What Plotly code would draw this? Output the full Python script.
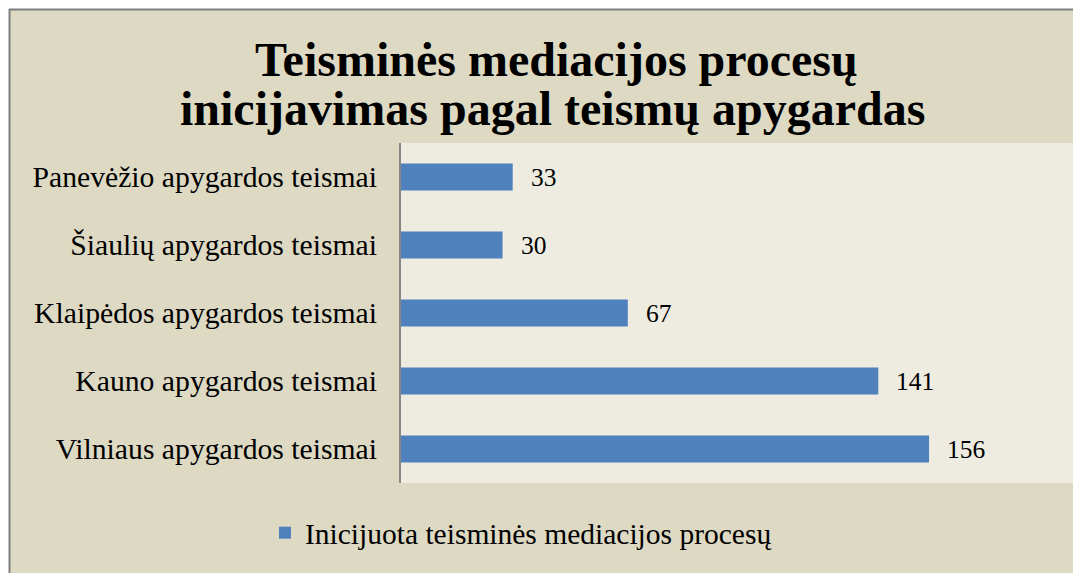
import plotly.graph_objects as go

categories = [
    "Vilniaus apygardos teismai",
    "Kauno apygardos teismai",
    "Klaipėdos apygardos teismai",
    "Šiaulių apygardos teismai",
    "Panevėžio apygardos teismai",
]
values = [156, 141, 67, 30, 33]
series_name = "Inicijuota teisminės mediacijos procesų"
title_lines = ["Teisminės mediacijos procesų", "inicijavimas pagal teismų apygardas"]

# page body has an 8px margin: figure coords = screen coords - 8
OFF = 8
W, H = 1081 - OFF, 573 - OFF
L, R, T, B = 401 - OFF, 1078 - OFF, 143 - OFF, 483 - OFF  # plot area in figure pixels


def px_x(p):
    return (p - OFF - L) / (R - L)


def px_y(p):
    return (B - (p - OFF)) / (B - T)


SERIF = "Liberation Serif, Times New Roman, serif"

fig = go.Figure()
fig.add_trace(go.Bar(
    x=values,
    y=categories,
    orientation="h",
    name=series_name,
    marker=dict(color="#4F81BD", line=dict(width=0)),
    showlegend=True,
    hoverinfo="x+y",
))

annotations = []
for v, c in zip(values, categories):
    annotations.append(dict(
        x=v, y=c, xref="x", yref="y", text=str(v), showarrow=False,
        xanchor="left", yanchor="middle", xshift=16,
        font=dict(family=SERIF, size=25.5, color="#000000"),
    ))

title_centers = [(556, 59), (552, 109)]
for line, (cx, cy) in zip(title_lines, title_centers):
    annotations.append(dict(
        x=px_x(cx), y=px_y(cy), xref="paper", yref="paper", text="<b>" + line + "</b>",
        showarrow=False, xanchor="center", yanchor="middle",
        font=dict(family=SERIF, size=48, color="#000000"),
    ))

fig.update_layout(
    width=W, height=H,
    margin=dict(l=L, r=W - R, t=T, b=H - B, pad=0),
    paper_bgcolor="#DDD9C3",
    plot_bgcolor="#EEECE1",
    bargap=0.6,
    font=dict(family=SERIF, color="#000000"),
    xaxis=dict(range=[0, 200], showticklabels=False, showgrid=False, zeroline=False,
               showline=False, ticks="", fixedrange=True),
    yaxis=dict(showgrid=False, zeroline=False, showline=True, linecolor="#868686",
               linewidth=2, ticks="", ticklabelstandoff=16,
               tickfont=dict(family=SERIF, size=29.7, color="#000000"), fixedrange=True),
    legend=dict(orientation="h", x=px_x(521), y=px_y(533), xanchor="center", yanchor="middle",
                font=dict(family=SERIF, size=29.5, color="#000000"),
                bgcolor="rgba(0,0,0,0)", itemwidth=30),
    shapes=[
        # white strip outside the chart frame
        dict(type="rect", xref="paper", yref="paper", layer="below",
             x0=px_x(0), x1=px_x(1100), y0=px_y(9), y1=px_y(0),
             fillcolor="#FFFFFF", line=dict(width=0)),
        dict(type="rect", xref="paper", yref="paper", layer="below",
             x0=px_x(0), x1=px_x(9), y0=px_y(600), y1=px_y(0),
             fillcolor="#FFFFFF", line=dict(width=0)),
        # frame border (top and left)
        dict(type="line", xref="paper", yref="paper", layer="above",
             x0=px_x(9), x1=px_x(1100), y0=px_y(9.5), y1=px_y(9.5),
             line=dict(color="#7F7F7F", width=2)),
        dict(type="line", xref="paper", yref="paper", layer="above",
             x0=px_x(9.5), x1=px_x(9.5), y0=px_y(600), y1=px_y(9),
             line=dict(color="#7F7F7F", width=2)),
    ],
    annotations=annotations,
)

fig.write_html("out.html")
